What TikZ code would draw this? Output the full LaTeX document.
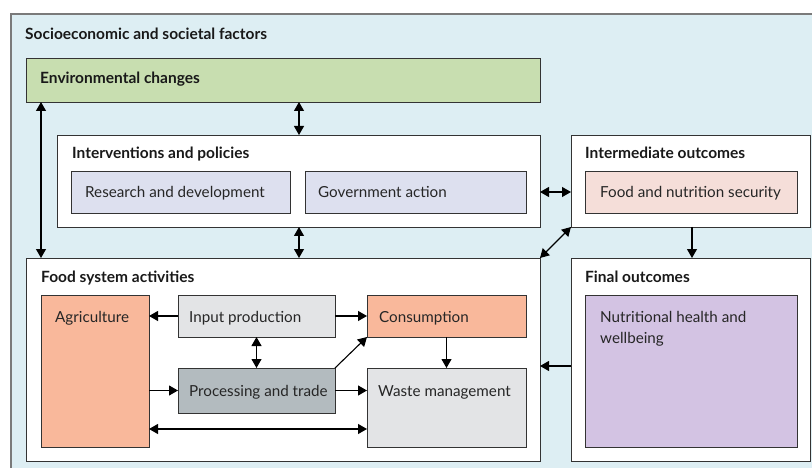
\documentclass[tikz,border=0pt]{standalone}
\usepackage{fontspec}
\setmainfont{Lato}
\usetikzlibrary{arrows.meta}
\definecolor{bgblue}{HTML}{DDEEF3}
\definecolor{envgreen}{HTML}{C8DEB0}
\definecolor{lav}{HTML}{DDE0EF}
\definecolor{pinklight}{HTML}{F5DED9}
\definecolor{salmon}{HTML}{F9B89B}
\definecolor{lightgray}{HTML}{E3E4E6}
\definecolor{midgray}{HTML}{B3BBBF}
\definecolor{purp}{HTML}{D3C3E3}
\definecolor{boxline}{HTML}{333333}
\definecolor{outerline}{HTML}{7A7A7A}
\begin{document}
\begin{tikzpicture}[x=1pt,y=-1pt,
  box/.style={draw=boxline, line width=0.9pt, inner sep=0pt, outer sep=0pt, anchor=north west},
  title/.style={font=\fontsize{15.5}{18}\selectfont\bfseries, anchor=base west, inner sep=0pt, text=black!90},
  lbl/.style={font=\fontsize{15.2}{18}\selectfont, anchor=base west, inner sep=0pt, text=black!85},
  tip/.tip={Triangle[length=9pt,width=10pt]},
  arr/.style={-tip, line width=1.1pt},
  darr/.style={tip-tip, line width=1.1pt}]
\useasboundingbox (0,0) rectangle (812,468);
% outer background
\node[box, draw=outerline, line width=1.2pt, fill=bgblue, minimum width=803pt, minimum height=457pt] (soc) at (11,14) {};
\node[title] (socT) at (25,40) {Socioeconomic and societal factors};
% environment
\node[box, fill=envgreen, minimum width=514pt, minimum height=44pt] (env) at (26,58) {};
\node[title] (envT) at (40,84) {Environmental changes};
% interventions
\node[box, fill=white, minimum width=483pt, minimum height=92pt] (intv) at (57,135) {};
\node[title] (intvT) at (72,159) {Interventions and policies};
\node[box, fill=lav, minimum width=219pt, minimum height=42pt] (rd) at (71,171) {};
\node[lbl] (rdL) at (85,197) {Research and development};
\node[box, fill=lav, minimum width=221pt, minimum height=42pt] (gov) at (305,171) {};
\node[lbl] (govL) at (318,197) {Government action};
% intermediate outcomes
\node[box, fill=white, minimum width=239pt, minimum height=92pt] (inter) at (571,135) {};
\node[title] (interT) at (585,159) {Intermediate outcomes};
\node[box, fill=pinklight, minimum width=212pt, minimum height=42pt] (fns) at (585,171) {};
\node[lbl] (fnsL) at (600,197) {Food and nutrition security};
% food system activities
\node[box, fill=white, minimum width=514pt, minimum height=203pt] (food) at (26,258) {};
\node[title] (foodT) at (41,282) {Food system activities};
\node[box, fill=salmon, minimum width=108pt, minimum height=152pt] (agri) at (41,295) {};
\node[lbl] (agriL) at (55,322) {Agriculture};
\node[box, fill=lightgray, minimum width=157pt, minimum height=42pt] (inp) at (178,295) {};
\node[lbl] (inpL) at (189,322) {Input production};
\node[box, fill=salmon, minimum width=159pt, minimum height=42pt] (cons) at (367,295) {};
\node[lbl] (consL) at (379,322) {Consumption};
\node[box, fill=midgray, minimum width=157pt, minimum height=45pt] (proc) at (178,368) {};
\node[lbl] (procL) at (189,396) {Processing and trade};
\node[box, fill=lightgray, minimum width=159pt, minimum height=79pt] (waste) at (367,368) {};
\node[lbl] (wasteL) at (378,396) {Waste management};
% final outcomes
\node[box, fill=white, minimum width=239pt, minimum height=203pt] (final) at (571,258) {};
\node[title] (finalT) at (585,282) {Final outcomes};
\node[box, fill=purp, minimum width=212pt, minimum height=152pt] (nut) at (585,295) {};
\node[lbl] (nutL1) at (600,322) {Nutritional health and};
\node[lbl] (nutL2) at (600,343) {wellbeing};
% helper coordinates
\coordinate (cx1) at (41,0);
\coordinate (cx2) at (299,0);
\coordinate (cx3) at (692,0);
\coordinate (cy1) at (0,366);
\coordinate (cy2) at (0,429);
% connectors
\draw[darr] (env.south -| cx1) -- (food.north -| cx1);
\draw[darr] (env.south -| cx2) -- (intv.north -| cx2);
\draw[darr] (intv.south -| cx2) -- (food.north -| cx2);
\draw[darr] (intv.east |- gov.east) -- (inter.west |- gov.east);
\draw[darr] (food.north east) -- (inter.south west);
\draw[arr] (inter.south -| cx3) -- (final.north -| cx3);
\draw[arr] (final.west |- cy1) -- (food.east |- cy1);
\draw[arr] (inp.west) -- (agri.east |- inp.west);
\draw[arr] (inp.east) -- (cons.west);
\draw[darr] (inp.south) -- (proc.north);
\draw[arr] (agri.east |- proc.west) -- (proc.west);
\draw[arr] (proc.east) -- (waste.west |- proc.east);
\draw[arr] (proc.north east) -- (cons.south west);
\draw[arr] (cons.south) -- (waste.north -| cons.south);
\draw[darr] (agri.east |- cy2) -- (waste.west |- cy2);
\end{tikzpicture}
\end{document}
